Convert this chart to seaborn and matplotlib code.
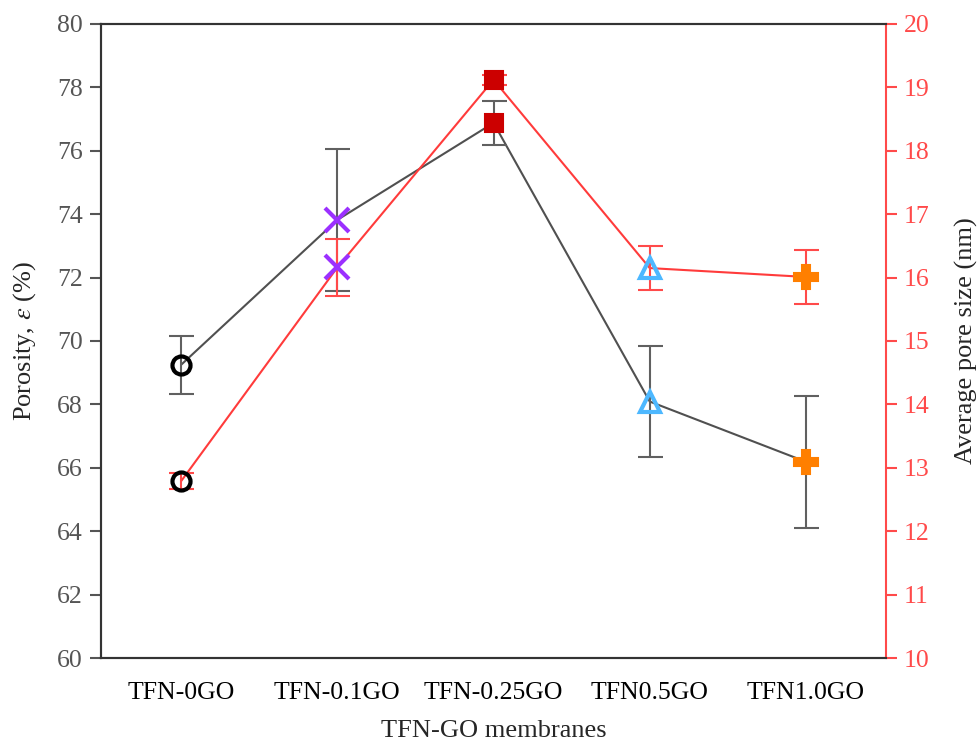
import numpy as np
import pandas as pd
import matplotlib
matplotlib.use("Agg")
import matplotlib.pyplot as plt
import seaborn as sns

# Datos
membranas = ['TFN-0GO', 'TFN-0.1GO', 'TFN-0.25GO', 'TFN0.5GO', 'TFN1.0GO']
porosidad = [69.25, 73.82, 76.88, 68.09, 66.19]
porosidad_err = [0.92, 2.25, 0.69, 1.75, 2.08]
poro = [12.79, 16.16, 19.12, 16.15, 16.01]
poro_err = [0.13, 0.45, 0.08, 0.35, 0.43]

# Estilo de cada membrana
marcadores = ['o', 'x', 's', '^', 'P']
colores = ['#000000', '#9B30FF', '#CC0000', '#4DB8FF', '#FF7F00']
rellenos = ['none', '#9B30FF', '#CC0000', 'none', '#FF7F00']
tamanos = [13, 17, 13, 15, 17]

sns.set_style("ticks")
plt.rcParams['font.family'] = ['Liberation Serif', 'DejaVu Serif']
plt.rcParams['mathtext.fontset'] = 'stix'

df = pd.DataFrame({'membrana': membranas, 'x': range(len(membranas)),
                   'porosidad': porosidad, 'poro': poro})

fig = plt.figure(figsize=(9.78, 7.42), dpi=100)
ax = fig.add_axes([0.1033, 0.1132, 0.8027, 0.8545])
ax2 = ax.twinx()

# Lineas
sns.lineplot(data=df, x='x', y='porosidad', ax=ax, color='#505050', lw=1.5, zorder=2)
sns.lineplot(data=df, x='x', y='poro', ax=ax2, color='#FF3B3B', lw=1.5, zorder=2)

# Barras de error
ax.errorbar(df['x'], df['porosidad'], yerr=porosidad_err, fmt='none', ecolor='#606060',
            elinewidth=1.5, capsize=9, capthick=1.5, zorder=3)
ax2.errorbar(df['x'], df['poro'], yerr=poro_err, fmt='none', ecolor='#FF4A4A',
             elinewidth=1.5, capsize=9, capthick=1.5, zorder=3)

# Marcadores
for i in range(len(membranas)):
    mew = 3 if marcadores[i] in ['o', '^', 'x'] else 1.5
    for eje, y in [(ax, porosidad[i]), (ax2, poro[i])]:
        eje.plot(i, y, marker=marcadores[i], ms=tamanos[i], mfc=rellenos[i], mec=colores[i],
                 mew=mew, ls='none', zorder=4)

# Ejes
ax.set_xlim(-0.513, 4.513)
ax.set_ylim(60, 80)
ax.set_yticks(np.arange(60, 81, 2))
ax2.set_ylim(10, 20)
ax2.set_yticks(np.arange(10, 21, 1))
ax.set_xticks(range(len(membranas)))
ax.set_xticklabels(membranas)

ax.set_xlabel('TFN-GO membranes', fontsize=19, labelpad=12)
ax.set_ylabel(r'Porosity, $\varepsilon$ (%)', fontsize=19, labelpad=14)
ax2.set_ylabel('Average pore size (nm)', fontsize=19, labelpad=18)

ax.tick_params(axis='x', labelsize=18.5, colors='black', length=0, pad=17)
ax.tick_params(axis='y', labelsize=18.5, labelcolor='#555555', color='#555555',
               length=8, width=1.5, direction='out', pad=5)
ax2.tick_params(axis='y', labelsize=18.5, labelcolor='#FF4A4A', color='#FF4A4A',
                length=8, width=1.5, direction='out', pad=5)

for eje in [ax, ax2]:
    for lado in ['top', 'bottom', 'left']:
        eje.spines[lado].set_color('#333333')
        eje.spines[lado].set_linewidth(1.5)
        eje.spines[lado].set_visible(True)
ax2.spines['right'].set_color('#FF4A4A')
ax2.spines['right'].set_linewidth(1.5)
ax2.spines['right'].set_visible(True)
ax.spines['right'].set_visible(False)

plt.savefig('out.png', dpi=100)
